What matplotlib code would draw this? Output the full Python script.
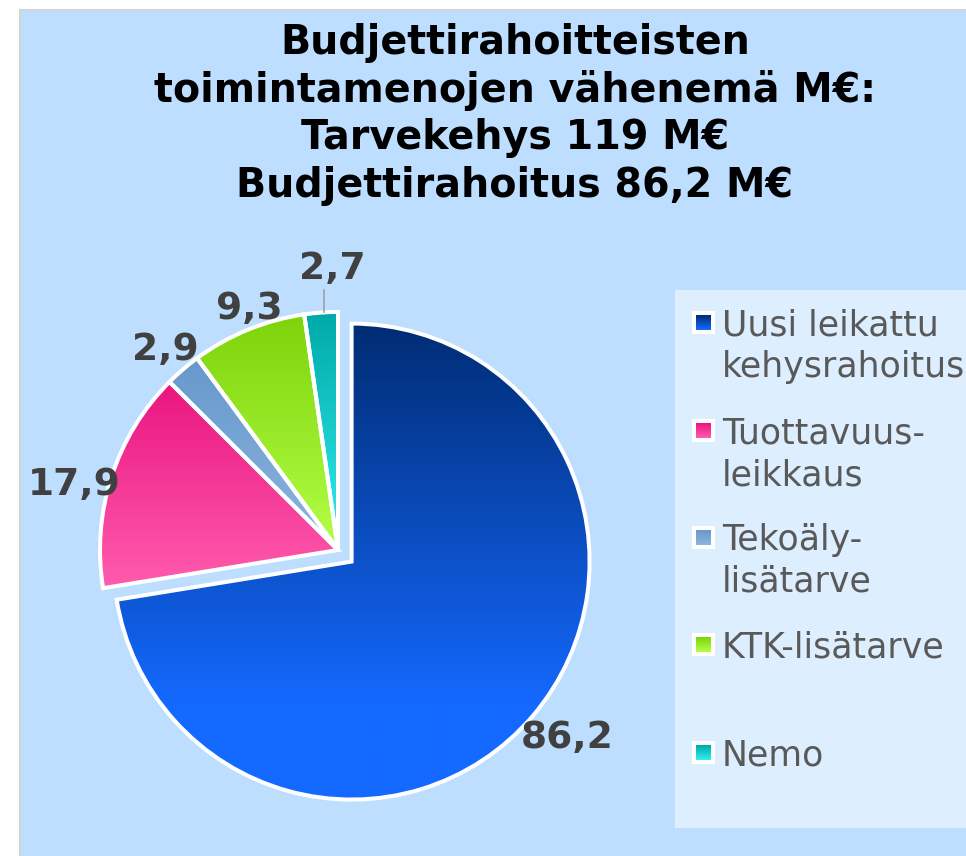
import numpy as np
import matplotlib
matplotlib.use("Agg")
import matplotlib.pyplot as plt
from matplotlib.colors import LinearSegmentedColormap
from matplotlib.patches import Rectangle

# ---------------- data ----------------
categories = ["Uusi leikattu\nkehysrahoitus", "Tuottavuus-\nleikkaus",
              "Tekoäly-\nlisätarve", "KTK-lisätarve", "Nemo"]
values = [86.2, 17.9, 2.9, 9.3, 2.7]
value_labels = ["86,2", "17,9", "2,9", "9,3", "2,7"]
title_lines = ["Budjettirahoitteisten",
               "toimintamenojen vähenemä M€:",
               "Tarvekehys 119 M€",
               "Budjettirahoitus 86,2 M€"]

# ---------------- styles ----------------
W, H = 966, 856
top_colors = ["#002C73", "#EA1580", "#6699CC", "#7DD30A", "#00A9A9"]
bot_colors = ["#1469FF", "#FF5CAE", "#8DB4DE", "#B4FF46", "#33EEEE"]
grad_stop = [0.8, 1.0, 1.0, 1.0, 1.0]
explode = [0.075, 0, 0, 0, 0]
label_dist = [1.17, 1.14, 1.11, 1.08, 1.18]
label_dang = [1.0, 4.0, 0.0, -2.0, -3.0]
bg_color = "#BDDEFF"
legend_bg = "#DDEEFF"
text_gray = "#595959"
label_gray = "#404040"

fig = plt.figure(figsize=(W / 100, H / 100), dpi=100)
fig.patch.set_facecolor("white")

# decoration axes in pixel coordinates
bg = fig.add_axes([0, 0, 1, 1])
bg.set_xlim(0, W)
bg.set_ylim(H, 0)
bg.axis("off")
bg.add_patch(Rectangle((19.5, 9.5), W, H, facecolor=bg_color,
                       edgecolor="#D4D4D4", linewidth=1.5))
bg.add_patch(Rectangle((675, 290), W - 675 + 5, 828 - 290,
                       facecolor=legend_bg, edgecolor="none"))

# title
title_baselines = [54, 102, 149, 197]
for line, yb in zip(title_lines, title_baselines):
    fig.text(515 / W, 1 - yb / H, line, ha="center", va="baseline",
             fontsize=28.5, fontweight="bold", color="black",
             family="DejaVu Sans")

# ---------------- pie ----------------
cx, cy, R = 338, 550, 238
half = 300
ax = fig.add_axes([(cx - half) / W, (H - cy - half) / H, 2 * half / W, 2 * half / H])
lim = half / R
ax.set_xlim(-lim, lim)
ax.set_ylim(-lim, lim)
ax.axis("off")
ax.patch.set_alpha(0)

wedges, _ = ax.pie(values, startangle=90, counterclock=False, explode=explode,
                   radius=1.0, wedgeprops=dict(edgecolor="white", linewidth=2.9),
                   normalize=True)

for i, w in enumerate(wedges):
    verts = w.get_patch_transform().transform(w.get_path().vertices)
    xmin, ymin = verts.min(axis=0)
    xmax, ymax = verts.max(axis=0)
    cmap = LinearSegmentedColormap.from_list(
        "g%d" % i, [(0, bot_colors[i]), (1 - grad_stop[i], bot_colors[i]), (1, top_colors[i])])
    grad = np.linspace(0, 1, 256).reshape(-1, 1)
    im = ax.imshow(grad, extent=[xmin, xmax, ymin, ymax], origin="lower",
                   cmap=cmap, aspect="auto", zorder=1, interpolation="bilinear")
    im.set_clip_path(w)
    w.set_facecolor("none")
    w.set_zorder(2)

ax.set_xlim(-lim, lim)
ax.set_ylim(-lim, lim)

# value labels
for i, w in enumerate(wedges):
    ang = np.deg2rad((w.theta1 + w.theta2) / 2 + label_dang[i])
    c = w.center
    x = c[0] + label_dist[i] * np.cos(ang)
    y = c[1] + label_dist[i] * np.sin(ang)
    ax.text(x, y, value_labels[i], ha="center", va="center", fontsize=27,
            fontweight="bold", color=label_gray, zorder=5)
    if i == 4:
        a0 = np.deg2rad((w.theta1 + w.theta2) / 2 - 0.8)
        x0 = 1.0 * np.cos(a0)
        y0 = 1.0 * np.sin(a0)
        ax.plot([x0, x0], [y0, y0 + 22 / R], color="#A0A0A0", lw=1.2, zorder=4)

# ---------------- legend ----------------
first_baselines = [335, 443, 550, 657, 765]
for i, lab in enumerate(categories):
    yb = first_baselines[i]
    ym = yb - 12.5
    bg.add_patch(Rectangle((692, ym - 11.5), 23, 23, facecolor="white",
                           edgecolor="none", zorder=3))
    cmap = LinearSegmentedColormap.from_list("l%d" % i, [top_colors[i], bot_colors[i]])
    bg.imshow(np.linspace(0, 1, 64).reshape(-1, 1), extent=[696, 711, ym + 7.5, ym - 7.5],
              cmap=cmap, aspect="auto", zorder=4)
    for k, part in enumerate(lab.split("\n")):
        bg.text(722, yb + 42 * k, part, ha="left", va="baseline", fontsize=25,
                color=text_gray, zorder=5)
bg.set_xlim(0, W)
bg.set_ylim(H, 0)

fig.savefig("out.png", dpi=100)
